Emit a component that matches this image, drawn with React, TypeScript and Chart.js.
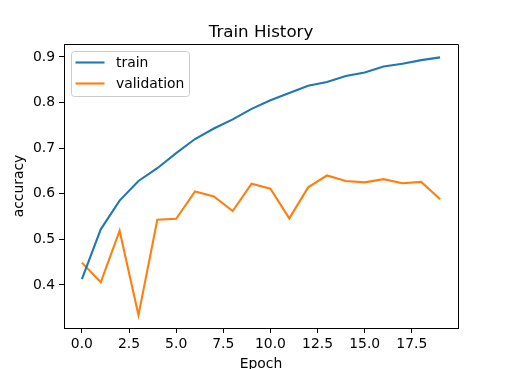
import React, { useEffect, useRef } from "react";
import { Chart, registerables } from "chart.js";

Chart.register(...registerables);

const epochs = [0, 1, 2, 3, 4, 5, 6, 7, 8, 9, 10, 11, 12, 13, 14, 15, 16, 17, 18, 19];
const trainAcc = [0.413, 0.522, 0.585, 0.628, 0.656, 0.689, 0.72, 0.743, 0.763, 0.786, 0.805, 0.821, 0.837, 0.845, 0.858, 0.866, 0.879, 0.885, 0.893, 0.899];
const valAcc = [0.449, 0.406, 0.519, 0.334, 0.543, 0.545, 0.605, 0.594, 0.562, 0.622, 0.611, 0.546, 0.614, 0.64, 0.628, 0.625, 0.632, 0.623, 0.626, 0.588];
const xTickValues = [0, 2.5, 5, 7.5, 10, 12.5, 15, 17.5];
const yTickValues = [0.4, 0.5, 0.6, 0.7, 0.8, 0.9];
const seriesNames = ["train", "validation"];
const seriesColors = ["#1f77b4", "#ff7f0e"];
const titleText = "Train History";
const xLabel = "Epoch";
const yLabel = "accuracy";

const FONT = "DejaVu Sans";
const LW = 2.1;

const overlay = {
  id: "overlay",
  afterDraw(chart: any) {
    const { ctx, chartArea } = chart;
    const { left, right, top, bottom } = chartArea;
    ctx.save();
    ctx.strokeStyle = "#000";
    ctx.lineWidth = 1;
    ctx.beginPath();
    ctx.moveTo(Math.round(left) + 0.5, Math.round(top) + 0.5);
    ctx.lineTo(Math.round(right) + 0.5, Math.round(top) + 0.5);
    ctx.lineTo(Math.round(right) + 0.5, Math.round(bottom) + 0.5);
    ctx.stroke();
    const cx = (left + right) / 2;
    ctx.fillStyle = "#000";
    ctx.font = `16.7px "${FONT}"`;
    ctx.textAlign = "center";
    ctx.textBaseline = "alphabetic";
    ctx.fillText(titleText, cx, 37);
    ctx.font = `13.9px "${FONT}"`;
    ctx.fillText(xLabel, cx, 368);
    ctx.save();
    ctx.translate(23, (top + bottom) / 2);
    ctx.rotate(-Math.PI / 2);
    ctx.textBaseline = "alphabetic";
    ctx.fillText(yLabel, 0, 0);
    ctx.restore();
    const bx = 71.5, by = 51.5, bw = 118, bh = 45, r = 3;
    ctx.beginPath();
    ctx.moveTo(bx + r, by);
    ctx.lineTo(bx + bw - r, by);
    ctx.arcTo(bx + bw, by, bx + bw, by + r, r);
    ctx.lineTo(bx + bw, by + bh - r);
    ctx.arcTo(bx + bw, by + bh, bx + bw - r, by + bh, r);
    ctx.lineTo(bx + r, by + bh);
    ctx.arcTo(bx, by + bh, bx, by + bh - r, r);
    ctx.lineTo(bx, by + r);
    ctx.arcTo(bx, by, bx + r, by, r);
    ctx.closePath();
    ctx.fillStyle = "rgba(255,255,255,0.8)";
    ctx.fill();
    ctx.strokeStyle = "#cccccc";
    ctx.lineWidth = 1;
    ctx.stroke();
    const rows = [62.5, 83.5];
    ctx.font = `13.9px "${FONT}"`;
    ctx.textAlign = "left";
    ctx.textBaseline = "middle";
    seriesNames.forEach((name, i) => {
      ctx.strokeStyle = seriesColors[i];
      ctx.lineWidth = LW;
      ctx.beginPath();
      ctx.moveTo(75.5, rows[i]);
      ctx.lineTo(104.5, rows[i]);
      ctx.stroke();
      ctx.fillStyle = "#000";
      ctx.fillText(name, 116, rows[i] + 0.5);
    });
    ctx.restore();
  },
};

export default function App() {
  const ref = useRef<HTMLCanvasElement | null>(null);
  useEffect(() => {
    document.body.style.margin = "0";
    const canvas = ref.current;
    if (!canvas) return;
    const chart = new Chart(canvas, {
      type: "line",
      data: {
        datasets: [
          {
            label: seriesNames[0],
            data: epochs.map((e, i) => ({ x: e, y: trainAcc[i] })),
            borderColor: seriesColors[0],
            backgroundColor: seriesColors[0],
            borderWidth: LW,
            pointRadius: 0,
            tension: 0,
          },
          {
            label: seriesNames[1],
            data: epochs.map((e, i) => ({ x: e, y: valAcc[i] })),
            borderColor: seriesColors[1],
            backgroundColor: seriesColors[1],
            borderWidth: LW,
            pointRadius: 0,
            tension: 0,
          },
        ],
      },
      plugins: [overlay],
      options: {
        animation: false,
        responsive: false,
        devicePixelRatio: 1,
        layout: { padding: { top: 44, right: 51, left: 0, bottom: 0 } },
        plugins: {
          legend: { display: false },
          title: { display: false },
          tooltip: { enabled: false },
        },
        scales: {
          x: {
            type: "linear",
            min: -0.95,
            max: 19.95,
            afterBuildTicks: (scale: any) => {
              scale.ticks = xTickValues.map((v) => ({ value: v }));
            },
            afterFit: (scale: any) => {
              scale.height = 41;
            },
            ticks: {
              callback: (v: any) => Number(v).toFixed(1),
              color: "#000",
              font: { family: FONT, size: 13.9 },
              padding: 3,
              maxRotation: 0,
              autoSkip: false,
            },
            grid: {
              drawOnChartArea: false,
              drawTicks: true,
              tickLength: 5,
              color: "#000",
            },
            border: { display: true, color: "#000", width: 1 },
          },
          y: {
            type: "linear",
            min: 0.3057,
            max: 0.9283,
            afterBuildTicks: (scale: any) => {
              scale.ticks = yTickValues.map((v) => ({ value: v }));
            },
            afterFit: (scale: any) => {
              scale.width = 64;
            },
            ticks: {
              callback: (v: any) => Number(v).toFixed(1),
              color: "#000",
              font: { family: FONT, size: 13.9 },
              padding: 4,
              autoSkip: false,
            },
            grid: {
              drawOnChartArea: false,
              drawTicks: true,
              tickLength: 5,
              color: "#000",
            },
            border: { display: true, color: "#000", width: 1 },
          },
        },
      },
    } as any);
    return () => chart.destroy();
  }, []);
  return <canvas ref={ref} width={509} height={369} style={{ display: "block", width: 509, height: 369 }} />;
}
